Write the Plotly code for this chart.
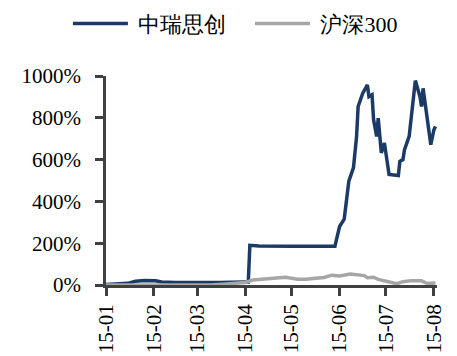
import plotly.graph_objects as go

stock_dates = ["2015-01-01","2015-01-08","2015-01-15","2015-01-20","2015-01-26","2015-02-02","2015-02-06",
               "2015-02-15","2015-03-01","2015-03-15","2015-04-01","2015-04-03","2015-04-04","2015-04-10",
               "2015-05-01","2015-05-29","2015-06-01","2015-06-03","2015-06-04","2015-06-07","2015-06-10",
               "2015-06-12","2015-06-13","2015-06-16","2015-06-19","2015-06-20","2015-06-22","2015-06-23",
               "2015-06-25","2015-06-26","2015-06-28","2015-06-30","2015-07-01","2015-07-03","2015-07-09",
               "2015-07-10","2015-07-12","2015-07-13","2015-07-16","2015-07-20","2015-07-23","2015-07-24",
               "2015-07-25","2015-07-27","2015-07-29","2015-07-30","2015-08-01","2015-08-02"]
stock_values = [2, 5, 8, 18, 22, 20, 14,
                12, 11, 12, 14, 14, 190, 187,
                185, 185, 280, 300, 315, 497, 562,
                710, 854, 918, 957, 901, 910, 790,
                711, 798, 632, 679, 632, 529, 524,
                592, 600, 648, 711, 978, 901, 854,
                941, 838, 743, 671, 743, 759]

index_dates = ["2015-01-01","2015-01-10","2015-01-20","2015-02-01","2015-02-10","2015-02-25","2015-03-10",
               "2015-03-20","2015-04-01","2015-04-06","2015-04-10","2015-04-20","2015-04-27","2015-05-05",
               "2015-05-10","2015-05-15","2015-05-22","2015-05-27","2015-06-01","2015-06-08","2015-06-12",
               "2015-06-17","2015-06-19","2015-06-23","2015-06-26","2015-06-30","2015-07-03","2015-07-08",
               "2015-07-12","2015-07-17","2015-07-24","2015-07-27","2015-07-30","2015-08-02"]
index_values = [0, 0, -3, -4, -2, -1, 0,
                5, 12, 24, 27, 35, 37, 28,
                27, 31, 36, 47, 43, 52, 50,
                45, 35, 37, 27, 20, 11, 6,
                16, 20, 20, 9, 8, 9]

y_ticks = [0, 200, 400, 600, 800, 1000]
y_labels = ["0%", "200%", "400%", "600%", "800%", "1000%"]
x_ticks = ["2015-01-01","2015-02-01","2015-03-01","2015-04-01","2015-05-01","2015-06-01","2015-07-01","2015-08-01"]
x_labels = ["15-01","15-02","15-03","15-04","15-05","15-06","15-07","15-08"]

FONT = "'Times New Roman', 'Liberation Serif', serif"
AX = "#404040"

fig = go.Figure()
fig.add_trace(go.Scatter(x=stock_dates, y=stock_values, mode="lines", name=" 中瑞思创",
                         line=dict(color="#1B3A66", width=3.5)))
fig.add_trace(go.Scatter(x=index_dates, y=index_values, mode="lines", name=" 沪深300",
                         line=dict(color="#A6A6A6", width=3.5)))

fig.update_layout(
    width=457, height=356,
    margin=dict(l=106, r=20, t=76, b=71, autoexpand=False),
    paper_bgcolor="white", plot_bgcolor="white",
    font=dict(family=FONT, size=21, color="black"),
    showlegend=True,
    legend=dict(orientation="h", x=-0.115, xanchor="left", y=1.25, yanchor="middle",
                font=dict(size=22, family=FONT), itemwidth=55, entrywidth=112,
                bgcolor="rgba(0,0,0,0)"),
    xaxis=dict(type="date", range=["2015-01-01", "2015-08-03"], tickvals=x_ticks, ticktext=x_labels,
               tickangle=-90, showgrid=False, zeroline=False, showline=True, linecolor=AX, linewidth=2.5,
               ticks="outside", ticklen=8, tickwidth=2.5, tickcolor=AX, ticklabelstandoff=0,
               tickfont=dict(size=21, family=FONT), automargin=False),
    yaxis=dict(range=[0, 1000], tickvals=y_ticks, ticktext=y_labels, showgrid=False, zeroline=False,
               showline=True, linecolor=AX, linewidth=2.5, ticks="outside", ticklen=8, tickwidth=2.5,
               tickcolor=AX, ticklabelstandoff=10, tickfont=dict(size=21, family=FONT), automargin=False),
)

fig.write_html("out.html")
